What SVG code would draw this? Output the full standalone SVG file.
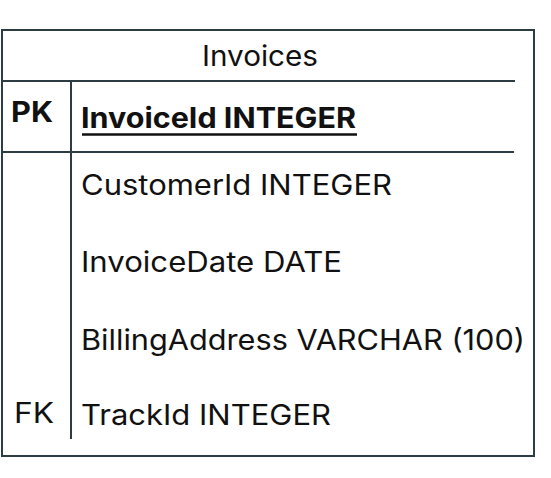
<svg xmlns="http://www.w3.org/2000/svg" width="551" height="478" viewBox="0 0 551 478">
<style>
.ln{stroke:#2d3b43;stroke-width:2;fill:none}
.t{font-family:Inter,"Liberation Sans",Arial,sans-serif;font-size:28px;fill:#111}
.b{font-weight:bold}
</style>
<rect width="551" height="478" fill="#fff"/>
<g id="Invoices">
<rect class="ln" x="2" y="30" width="532" height="426"/>
<line class="ln" x1="2" y1="81" x2="515" y2="81"/>
<line class="ln" x1="2" y1="152" x2="514" y2="152"/>
<line class="ln" x1="71" y1="81" x2="71" y2="439"/>
<text class="t" x="260" y="66" text-anchor="middle" textLength="116" lengthAdjust="spacingAndGlyphs">Invoices</text>
<text class="t b" x="11" y="122" font-size="29" textLength="42" lengthAdjust="spacingAndGlyphs">PK</text>
<text class="t b" x="81" y="128" textLength="275" lengthAdjust="spacingAndGlyphs">InvoiceId INTEGER</text>
<line x1="82" y1="134.5" x2="357" y2="134.5" stroke="#111" stroke-width="2.5"/>
<text class="t" x="81" y="195" textLength="311" lengthAdjust="spacingAndGlyphs">CustomerId INTEGER</text>
<text class="t" x="81" y="272" textLength="261" lengthAdjust="spacingAndGlyphs">InvoiceDate DATE</text>
<text class="t" x="81" y="350" textLength="444" lengthAdjust="spacingAndGlyphs">BillingAddress VARCHAR (100)</text>
<text class="t" x="14" y="423" textLength="40" lengthAdjust="spacingAndGlyphs">FK</text>
<text class="t" x="81" y="425" textLength="250" lengthAdjust="spacingAndGlyphs">TrackId INTEGER</text>
</g>
<g id="connectors"></g>
</svg>
